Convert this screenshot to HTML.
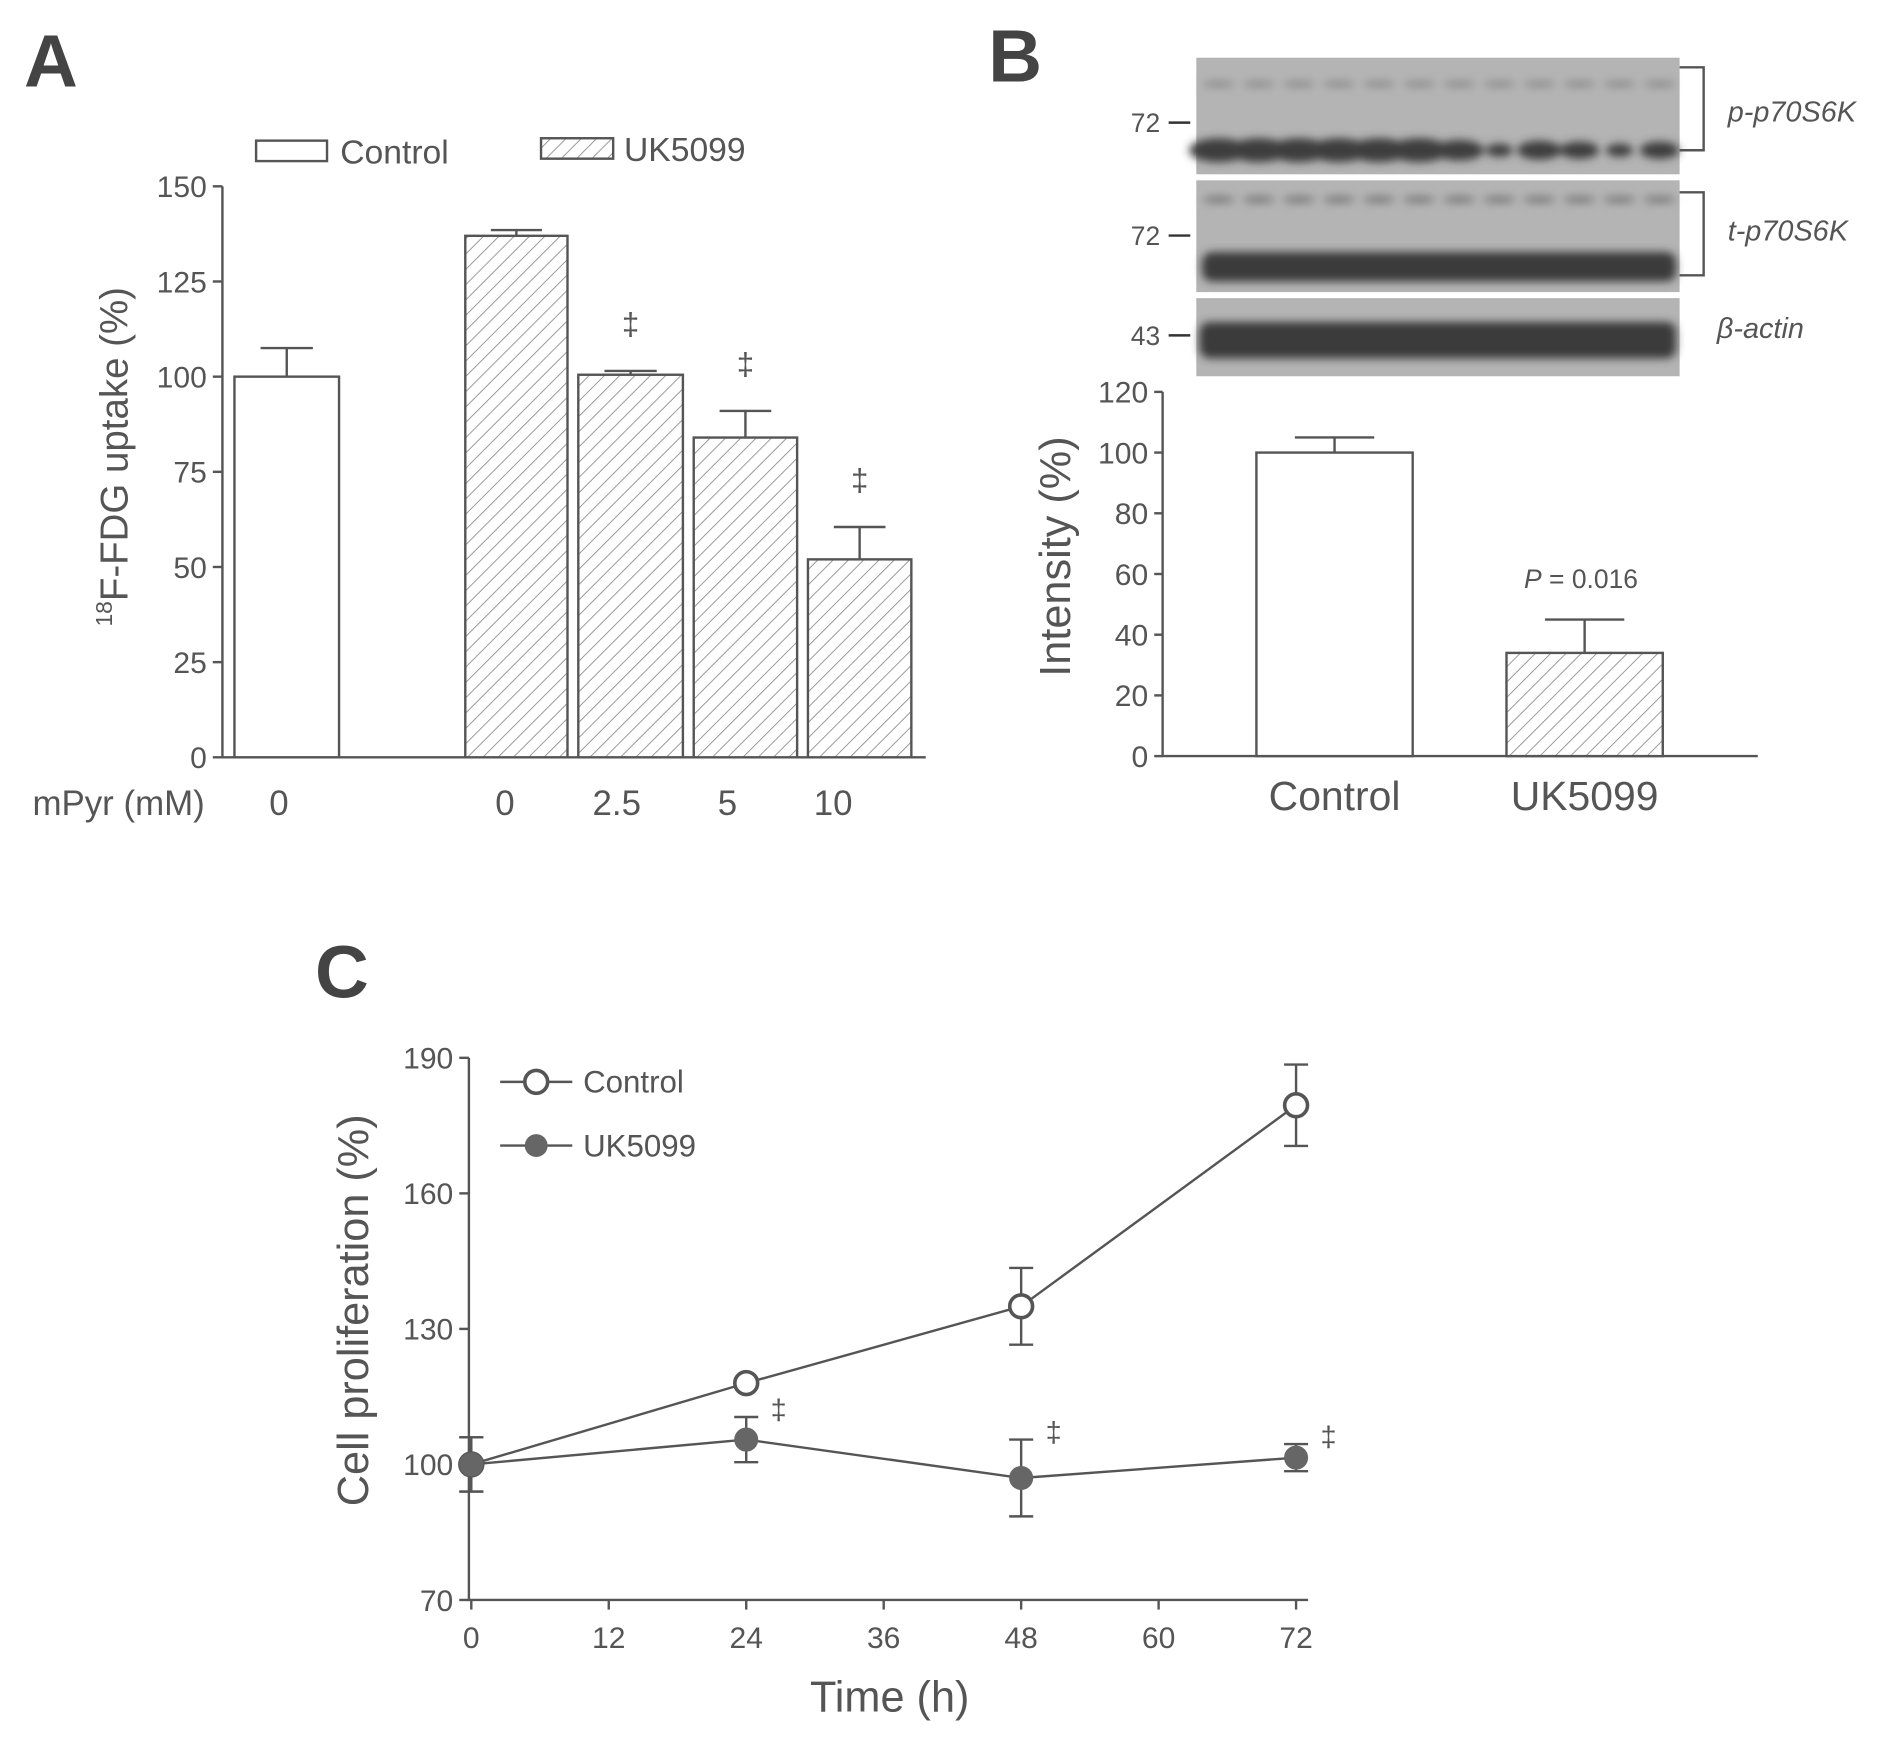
<!DOCTYPE html>
<html><head><meta charset="utf-8"><style>
html,body{margin:0;padding:0;background:#fff;}
svg{display:block;font-family:"Liberation Sans",Arial,sans-serif;}
</style></head><body>
<svg id="fig" width="1884" height="1737" viewBox="0 0 1567 1445" preserveAspectRatio="none" xmlns="http://www.w3.org/2000/svg">
<defs>
<pattern id="hatch" patternUnits="userSpaceOnUse" width="9" height="9" patternTransform="rotate(45)">
<rect width="9" height="9" fill="#fff"/><line x1="0" y1="0" x2="0" y2="9" stroke="#888" stroke-width="1.4"/>
</pattern>
<filter id="blur"><feGaussianBlur stdDeviation="3.5"/></filter>
</defs>
<g id="panelA"></g>
<g id="panelB"></g>
<g id="panelC"></g>
</svg>
<script>
// ---- Panel A data ----
const aCategories = ["0", "0", "2.5", "5", "10"];
const aGroups = ["control", "uk5099", "uk5099", "uk5099", "uk5099"];
const aValues = [100, 137, 100.5, 84, 52];
const aErrors = [7.5, 1.5, 1, 7, 8.5];
const aSig = [false, false, true, true, true];
const aTicks = [0, 25, 50, 75, 100, 125, 150];
// ---- Panel B data ----
const bCategories = ["Control", "UK5099"];
const bValues = [100, 34];
const bErrors = [5, 11];
const bTicks = [0, 20, 40, 60, 80, 100, 120];
// ---- Panel C data ----
const cTimes = [0, 24, 48, 72];
const cControl = [100, 118, 135, 179.5];
const cControlErr = [6, 1, 8.5, 9];
const cUK = [100, 105.5, 97, 101.5];
const cUKErr = [6, 5, 8.5, 3];
const cYTicks = [70, 100, 130, 160, 190];
const cXTicks = [0, 12, 24, 36, 48, 60, 72];

const NS = "http://www.w3.org/2000/svg";
const G = "#555";
function el(parent, tag, attrs, text) {
  const e = document.createElementNS(NS, tag);
  for (const k in attrs) e.setAttribute(k, attrs[k]);
  if (text !== undefined) e.textContent = text;
  parent.appendChild(e);
  return e;
}

// ===== Panel A =====
(function () {
  const g = document.getElementById("panelA");
  const y = v => 630 - v * (475 / 150);
  const barX = [195, 387, 481, 577, 672], barW = [87, 85, 87, 86, 86];
  const t = el(g, "text", { x: 20, y: 72, "font-size": 62, "font-weight": "bold", fill: "#444" }, "A");
  
  
  const ax = el(g, "path", { d: "M185 155 V630 H770", fill: "none", stroke: G, "stroke-width": 2 });
  
  
  aTicks.forEach(v => {
    el(g, "line", { x1: 177, x2: 185, y1: y(v), y2: y(v), stroke: G, "stroke-width": 2 });
    const tl = el(g, "text", { x: 172, y: y(v) + 9, "font-size": 25, fill: G, "text-anchor": "end" }, v);
    
    
  });
  const yl = el(g, "text", { transform: "translate(106,380) rotate(-90)", "font-size": 32, fill: G, "text-anchor": "middle" });
  
  
  el(yl, "tspan", { "font-size": 19, dy: -13 }, "18");
  el(yl, "tspan", { dy: 13 }, "F-FDG uptake (%)");
  aValues.forEach((v, i) => {
    const cx = barX[i] + barW[i] / 2;
    const top = y(v + aErrors[i]);
    const hw = barW[i] * 0.25;
    el(g, "line", { x1: cx, x2: cx, y1: y(v), y2: top, stroke: G, "stroke-width": 2 });
    el(g, "line", { x1: cx - hw, x2: cx + hw, y1: top, y2: top, stroke: G, "stroke-width": 2 });
    const b = el(g, "rect", { x: barX[i], y: y(v), width: barW[i], height: 630 - y(v), fill: aGroups[i] === "control" ? "#fff" : "url(#hatch)", stroke: G, "stroke-width": 2 });
    
    
    if (aSig[i]) {
      const s = el(g, "text", { x: cx, y: top - 30, "font-size": 26, fill: G, "text-anchor": "middle" }, "‡");
      
      
    }
    const xl = el(g, "text", { x: [232, 420, 513, 605, 693][i], y: 678, "font-size": 29, fill: G, "text-anchor": "middle" }, aCategories[i]);
    
    
  });
  const mp = el(g, "text", { x: 27, y: 678, "font-size": 29, fill: G }, "mPyr (mM)");
  
  
  el(g, "rect", { x: 213, y: 117, width: 59, height: 17, fill: "#fff", stroke: G, "stroke-width": 2 });
  const l1 = el(g, "text", { x: 283, y: 136, "font-size": 28, fill: G }, "Control");
  
  
  el(g, "rect", { x: 450, y: 115, width: 60, height: 17, fill: "url(#hatch)", stroke: G, "stroke-width": 2 });
  const l2 = el(g, "text", { x: 519, y: 134, "font-size": 28, fill: G }, "UK5099");
  
  
})();

// ===== Panel B =====
(function () {
  const g = document.getElementById("panelB");
  const t = el(g, "text", { x: 822, y: 68, "font-size": 62, "font-weight": "bold", fill: "#444" }, "B");
  
  
  const blot = el(g, "g", {});
  
  
  const strips = [[48, 97], [150, 93], [248, 65]];
  strips.forEach(s => el(blot, "rect", { x: 995, y: s[0], width: 402, height: s[1], fill: "#b4b4b4" }));
  const lanes = 12, lw = 400 / lanes;
  const pInt = [1, 1, 1, 1, 1, 1, 0.8, 0.35, 0.7, 0.6, 0.35, 0.6];
  const pdark = el(blot, "g", { filter: "url(#blur)" });
  for (let i = 0; i < lanes; i++) {
    const cx = 997 + lw * (i + 0.5);
    el(pdark, "ellipse", { cx, cy: 125, rx: lw * 0.62 * pInt[i] + 4, ry: 7 * pInt[i] + 3, fill: "#3c3c3c" });
    el(pdark, "ellipse", { cx, cy: 70, rx: lw * 0.4, ry: 2.5, fill: "#888" });
    el(pdark, "rect", { x: 1000, y: 210, width: 394, height: 24, rx: 8, fill: "#3a3a3a" });
    el(pdark, "ellipse", { cx, cy: 166, rx: lw * 0.4, ry: 3, fill: "#7a7a7a" });
    el(pdark, "rect", { x: 998, y: 268, width: 396, height: 30, rx: 8, fill: "#3a3a3a" });
  }
  [[102, "72"], [196, "72"], [279, "43"]].forEach(m => {
    el(g, "line", { x1: 972, x2: 990, y1: m[0], y2: m[0], stroke: "#333", "stroke-width": 2 });
    const mk = el(g, "text", { x: 965, y: m[0] + 8, "font-size": 22, fill: G, "text-anchor": "end" }, m[1]);
    
    
  });
  el(g, "path", { d: "M1397 56 H1417 V125 H1397 M1397 160 H1417 V229 H1397", fill: "none", stroke: "#555", "stroke-width": 2 });
  [[101, "p-p70S6K"], [200, "t-p70S6K"], [281, "β-actin"]].forEach(m => {
    const lb = el(g, "text", { x: m[1] === "β-actin" ? 1428 : 1437, y: m[0], "font-size": 24, "font-style": "italic", fill: G }, m[1]);
    
    
  });
  const y = v => 629 - v * (303 / 120);
  const bx = [1045, 1253], bw = 130;
  el(g, "path", { d: "M967 326 V629 H1462", fill: "none", stroke: G, "stroke-width": 2 });
  bTicks.forEach(v => {
    el(g, "line", { x1: 960, x2: 967, y1: y(v), y2: y(v), stroke: G, "stroke-width": 2 });
    const tl = el(g, "text", { x: 955, y: y(v) + 9, "font-size": 25, fill: G, "text-anchor": "end" }, v);
    
    
  });
  const yl = el(g, "text", { transform: "translate(890,463) rotate(-90)", "font-size": 36, fill: G, "text-anchor": "middle" }, "Intensity  (%)");
  
  
  bValues.forEach((v, i) => {
    const cx = bx[i] + bw / 2, top = y(v + bErrors[i]);
    el(g, "line", { x1: cx, x2: cx, y1: y(v), y2: top, stroke: G, "stroke-width": 2 });
    el(g, "line", { x1: cx - 33, x2: cx + 33, y1: top, y2: top, stroke: G, "stroke-width": 2 });
    const b = el(g, "rect", { x: bx[i], y: y(v), width: bw, height: 629 - y(v), fill: i === 0 ? "#fff" : "url(#hatch)", stroke: G, "stroke-width": 2 });
    
    
    const xl = el(g, "text", { x: cx, y: 674, "font-size": 34, fill: G, "text-anchor": "middle" }, bCategories[i]);
    
    
  });
  const p = el(g, "text", { x: 1315, y: 489, "font-size": 22, fill: G, "text-anchor": "middle" });
  
  
  el(p, "tspan", { "font-style": "italic" }, "P");
  el(p, "tspan", {}, " = 0.016");
})();

// ===== Panel C =====
(function () {
  const g = document.getElementById("panelC");
  const y = v => 1331 - (v - 70) * (451 / 120);
  const x = t => 392 + t * (686 / 72);
  const t = el(g, "text", { x: 262, y: 830, "font-size": 62, "font-weight": "bold", fill: "#444" }, "C");
  
  
  el(g, "path", { d: "M390 880 V1331 H1088", fill: "none", stroke: G, "stroke-width": 2 });
  cYTicks.forEach(v => {
    el(g, "line", { x1: 382, x2: 390, y1: y(v), y2: y(v), stroke: G, "stroke-width": 2 });
    const tl = el(g, "text", { x: 377, y: y(v) + 9, "font-size": 25, fill: G, "text-anchor": "end" }, v);
    
    
  });
  cXTicks.forEach(v => {
    el(g, "line", { x1: x(v), x2: x(v), y1: 1331, y2: 1339, stroke: G, "stroke-width": 2 });
    const tl = el(g, "text", { x: x(v), y: 1371, "font-size": 25, fill: G, "text-anchor": "middle" }, v);
    
    
  });
  const yl = el(g, "text", { transform: "translate(306,1090) rotate(-90)", "font-size": 36, fill: G, "text-anchor": "middle" }, "Cell proliferation (%)");
  
  
  const xl = el(g, "text", { x: 740, y: 1424, "font-size": 36, fill: G, "text-anchor": "middle" }, "Time (h)");
  
  
  function series(vals, errs, filled, name) {
    const line = el(g, "polyline", { points: cTimes.map((tt, i) => x(tt) + "," + y(vals[i])).join(" "), fill: "none", stroke: G, "stroke-width": 2 });
    
    
    vals.forEach((v, i) => {
      const cx = x(cTimes[i]);
      el(g, "path", { d: `M${cx} ${y(v + errs[i])} V${y(v - errs[i])} M${cx - 10} ${y(v + errs[i])} H${cx + 10} M${cx - 10} ${y(v - errs[i])} H${cx + 10}`, stroke: G, "stroke-width": 2, fill: "none" });
      const c = el(g, "circle", { cx, cy: y(v), r: 9.5, fill: filled ? "#666" : "#fff", stroke: filled ? "#666" : "#555", "stroke-width": filled ? 1 : 3 });
      
      
      if (filled && i > 0) {
        const s = el(g, "text", { x: cx + 27, y: y(v + errs[i]) + 2, "font-size": 24, fill: G, "text-anchor": "middle" }, "‡");
        
        
      }
    });
  }
  series(cControl, cControlErr, false, "control");
  series(cUK, cUKErr, true, "uk5099");
  el(g, "line", { x1: 416, x2: 476, y1: 900, y2: 900, stroke: G, "stroke-width": 2 });
  el(g, "circle", { cx: 446, cy: 900, r: 9.5, fill: "#fff", stroke: G, "stroke-width": 3 });
  const l1 = el(g, "text", { x: 485, y: 909, "font-size": 26, fill: G }, "Control");
  
  
  el(g, "line", { x1: 416, x2: 476, y1: 953, y2: 953, stroke: G, "stroke-width": 2 });
  el(g, "circle", { cx: 446, cy: 953, r: 9.5, fill: "#666" });
  const l2 = el(g, "text", { x: 485, y: 962, "font-size": 26, fill: G }, "UK5099");
  
  
})();
</script>
</body></html>
